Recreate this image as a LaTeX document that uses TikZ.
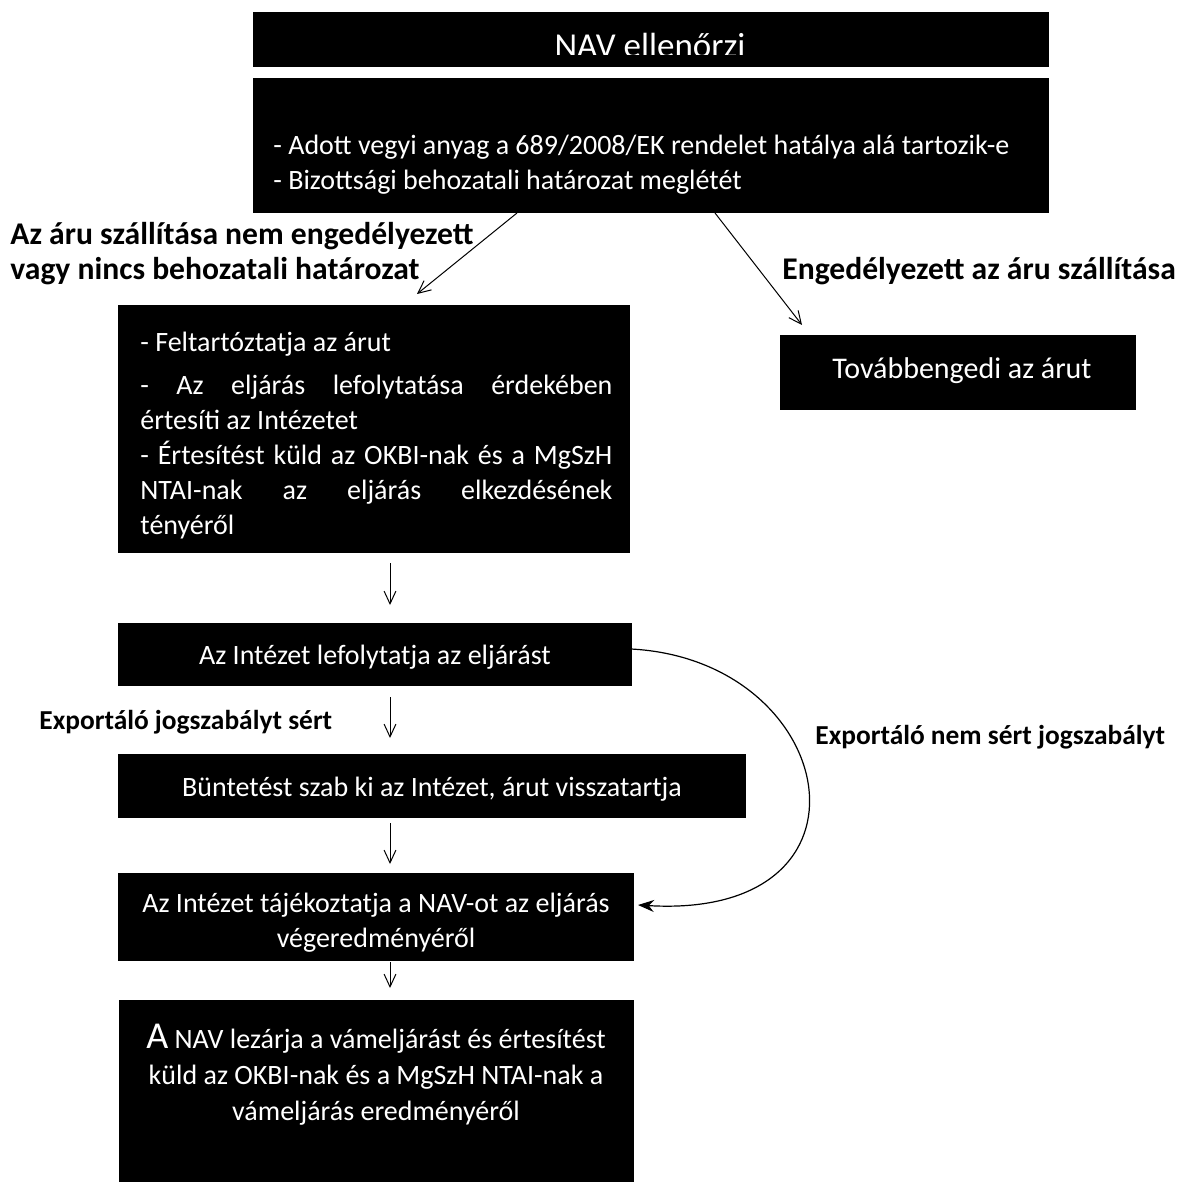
\documentclass[tikz,border=0pt]{standalone}
\usepackage{fontspec}
\setmainfont{Carlito}
\usetikzlibrary{arrows.meta}
\begin{document}
\begin{tikzpicture}[x=0.5pt,y=-0.5pt,
  box/.style={fill=black,draw=none,inner sep=0pt},
  wtxt/.style={text=white,inner sep=0pt,font=\fontsize{14}{17.5}\selectfont},
  lab/.style={text=black,inner sep=0pt,font=\bfseries\fontsize{15.8}{17.5}\selectfont},
  slab/.style={text=black,inner sep=0pt,font=\bfseries\fontsize{13.7}{16}\selectfont},
  arr/.style={line width=0.5pt,-{Straight Barb[angle=50:7pt]}},
  carr/.style={line width=0.6pt,-{Stealth[length=8pt,width=6pt]}}]
\useasboundingbox (0,0) rectangle (1184,1182);
% boxes
\node[box,minimum width=398pt,minimum height=27.5pt,anchor=north west] (b1) at (253,12) {};
\begin{scope}
\clip (253,12) rectangle (1049,55);
\node[wtxt,anchor=base,font=\fontsize{17.5}{20}\selectfont] (b1t) at (650,58) {NAV ellenőrzi};
\end{scope}
\node[box,minimum width=398pt,minimum height=67.5pt,anchor=north west] (b2) at (253,78) {};
\node[wtxt,anchor=west,align=left] (b2t) at (273,165) {- Adott vegyi anyag a 689/2008/EK rendelet hatálya alá tartozik-e\\- Bizottsági behozatali határozat meglétét};
\node[box,minimum width=256pt,minimum height=124pt,anchor=north west] (b3) at (118,305) {};
\node[wtxt,anchor=north west,text width=236pt,align=justify] (b3t) at (140,332) {\hyphenpenalty=10000 - Feltartóztatja az árut\par\vspace{4pt}- Az eljárás lefolytatása érdekében\linebreak értesíti az Intézetet\par - Értesítést küld az OKBI-nak és a MgSzH\linebreak NTAI-nak az eljárás elkezdésének\linebreak tényéről\par};
\node[box,minimum width=178pt,minimum height=37.5pt,anchor=north west] (b4) at (780,335) {};
\node[wtxt,font=\fontsize{15}{17}\selectfont] (b4t) at (962,371) {Továbbengedi az árut};
\node[box,minimum width=257pt,minimum height=31.5pt,anchor=north west] (b5) at (118,623) {};
\node[wtxt] (b5t) at (375,657) {Az Intézet lefolytatja az eljárást};
\node[box,minimum width=314pt,minimum height=32pt,anchor=north west] (b6) at (118,754) {};
\node[wtxt] (b6t) at (432,789) {Büntetést szab ki az Intézet, árut visszatartja};
\node[box,minimum width=258pt,minimum height=44pt,anchor=north west] (b7) at (118,873) {};
\node[wtxt,align=center,font=\fontsize{14}{17.5}\selectfont] (b7t) at (376,923) {Az Intézet tájékoztatja a NAV-ot az eljárás\\végeredményéről};
\node[box,minimum width=257.5pt,minimum height=91pt,anchor=north west] (b8) at (119,1000) {};
\node[wtxt,align=center,font=\fontsize{14}{18}\selectfont] (b8t) at (376,1075) {{\fontsize{19}{18}\selectfont A} NAV lezárja a vámeljárást és értesítést\\küld az OKBI-nak és a MgSzH NTAI-nak a\\vámeljárás eredményéről};
% labels
\node[lab,anchor=west,align=left] (l1) at (10,254) {Az áru szállítása nem engedélyezett\\vagy nincs behozatali határozat};
\node[lab,anchor=west] (l2) at (782,271) {Engedélyezett az áru szállítása};
\node[slab,anchor=west] (l3) at (39,722) {Exportáló jogszabályt sért};
\node[slab,anchor=west] (l4) at (815,737) {Exportáló nem sért jogszabályt};
% arrow coordinates
\coordinate (p1s) at (517,213);
\coordinate (p1e) at (417,294);
\coordinate (p2s) at (715,213);
\coordinate (p2e) at (802,325);
\coordinate (a1s) at (390,563);
\coordinate (a1e) at (390,605);
\coordinate (a2s) at (390,697);
\coordinate (a2e) at (390,738);
\coordinate (a3s) at (390,823);
\coordinate (a3e) at (390,864);
\coordinate (a4s) at (390,962);
\coordinate (a4e) at (390,988);
\coordinate (cs) at (631,649);
\coordinate (ce) at (638,905);
\draw[arr] (p1s) -- (p1e);
\draw[arr] (p2s) -- (p2e);
\draw[arr] (a1s) -- (a1e);
\draw[arr] (a2s) -- (a2e);
\draw[arr] (a3s) -- (a3e);
\draw[arr] (a4s) -- (a4e);
\draw[carr] (cs) .. controls (840,660) and (890,920) .. (ce);
\end{tikzpicture}
\end{document}
